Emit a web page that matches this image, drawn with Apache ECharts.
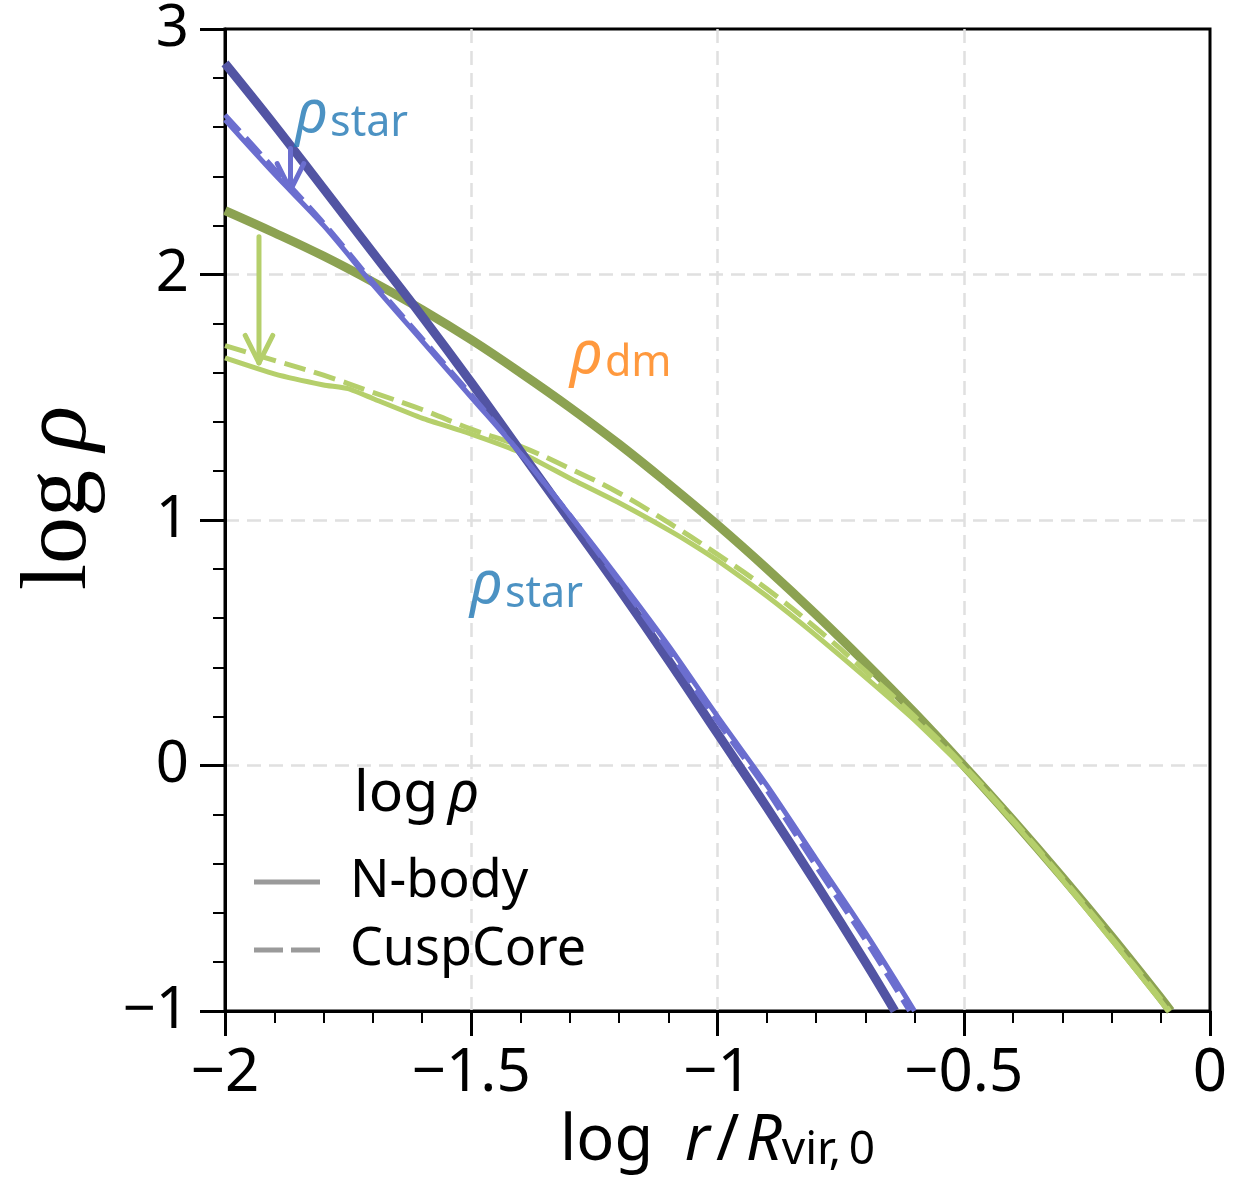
<!DOCTYPE html>
<html>
<head>
<meta charset="utf-8">
<script src="https://cdn.jsdelivr.net/npm/echarts@6/dist/echarts.min.js"></script>
<style>
  html, body { margin: 0; padding: 0; background: #ffffff; }
  #chart { width: 1238px; height: 1188px; }
</style>
</head>
<body>
<div id="chart"></div>
<script>
// Density profiles: [log r/R_vir,0, log rho]
// Stars: initial profile (thick), N-body result and CuspCore prediction
const starInitial = [
  [-2.0, 2.86], [-1.9, 2.61], [-1.8, 2.35], [-1.7, 2.09], [-1.6, 1.83],
  [-1.5, 1.56], [-1.4, 1.28], [-1.3, 1.00], [-1.2, 0.72], [-1.1, 0.43],
  [-1.0, 0.13], [-0.9, -0.17], [-0.8, -0.48], [-0.7, -0.80], [-0.64, -1.0]
];
const starNbody = [
  [-2.0, 2.63], [-1.9, 2.41], [-1.8, 2.20], [-1.7, 1.96], [-1.6, 1.73],
  [-1.5, 1.50], [-1.4, 1.27], [-1.3, 1.02], [-1.2, 0.76], [-1.1, 0.49],
  [-1.0, 0.20], [-0.9, -0.08], [-0.8, -0.38], [-0.7, -0.68], [-0.6, -1.0]
];
const starCuspCore = [
  [-2.0, 2.65], [-1.9, 2.43], [-1.8, 2.21], [-1.7, 1.97], [-1.6, 1.74],
  [-1.5, 1.51], [-1.4, 1.27], [-1.3, 1.02], [-1.2, 0.75], [-1.1, 0.47],
  [-1.0, 0.18], [-0.9, -0.10], [-0.8, -0.41], [-0.7, -0.71], [-0.61, -1.0]
];
// Dark matter: initial profile (thick), N-body result and CuspCore prediction
const dmInitial = [
  [-2.0, 2.26], [-1.9, 2.17], [-1.8, 2.075], [-1.7, 1.97], [-1.6, 1.857],
  [-1.5, 1.734], [-1.4, 1.60], [-1.3, 1.459], [-1.2, 1.309], [-1.1, 1.148],
  [-1.0, 0.98], [-0.9, 0.802], [-0.8, 0.615], [-0.7, 0.419], [-0.6, 0.215],
  [-0.5, 0.0], [-0.4, -0.223], [-0.3, -0.455], [-0.2, -0.696], [-0.1, -0.947],
  [-0.08, -1.0]
];
const dmNbody = [
  [-2.0, 1.66], [-1.9, 1.595], [-1.8, 1.55], [-1.75, 1.535], [-1.7, 1.495],
  [-1.6, 1.415], [-1.5, 1.35], [-1.4, 1.275], [-1.3, 1.17], [-1.2, 1.07],
  [-1.1, 0.96], [-1.05, 0.90], [-1.0, 0.835], [-0.9, 0.69], [-0.8, 0.53],
  [-0.7, 0.36], [-0.6, 0.185], [-0.5, -0.01], [-0.4, -0.23], [-0.3, -0.465],
  [-0.2, -0.71], [-0.1, -0.96], [-0.085, -1.0]
];
const dmCuspCore = [
  [-2.0, 1.71], [-1.9, 1.65], [-1.8, 1.59], [-1.7, 1.52], [-1.6, 1.45],
  [-1.5, 1.37], [-1.4, 1.30], [-1.3, 1.21], [-1.2, 1.11], [-1.1, 0.99],
  [-1.0, 0.86], [-0.9, 0.72], [-0.8, 0.56], [-0.7, 0.385], [-0.6, 0.20],
  [-0.5, 0.0], [-0.4, -0.222], [-0.3, -0.457], [-0.2, -0.70], [-0.1, -0.95],
  [-0.082, -1.0]
];

// Arrows marking the drop of the central density
const starArrowShaft = [[-1.867, 2.513], [-1.867, 2.344]];
const starArrowHead = [[-1.894, 2.452], [-1.867, 2.344], [-1.840, 2.452]];
const dmArrowShaft = [[-1.931, 2.154], [-1.931, 1.640]];
const dmArrowHead = [[-1.959, 1.752], [-1.931, 1.640], [-1.903, 1.752]];

// Axis ticks
const xTicks = [-2, -1.5, -1, -0.5, 0];
const yTicks = [-1, 0, 1, 2, 3];

// Legend entries
const legendNames = ['N-body', 'CuspCore'];

// Text annotations (anchor = left edge, vertical middle of the text line)
const annotations = [
  { at: [-1.858, 2.650], sub: 'star', color: '#1f77b4' },
  { at: [-1.503, 0.732], sub: 'star', color: '#1f77b4' },
  { at: [-1.300, 1.670], sub: 'dm', color: '#ff7f0e' }
];

const C = {
  starInit: '#5254a3', starFinal: '#6b6ecf',
  dmInit: '#8ca252', dmFinal: '#b5cf6b',
  legend: '#9a9a9a', grid: '#e0e0e0'
};
const SANS = 'Noto Sans';
const DASH = [22, 9];

const fmtTick = v => (v < 0 ? '\u2212' + Math.abs(v) : String(v));

function profile(name, data, color, width, dashed, z, smooth) {
  return {
    type: 'line', name: name, data: data, symbol: 'none', showSymbol: false,
    smooth: smooth,
    lineStyle: { color: color, width: width, type: dashed ? DASH : 'solid', cap: 'butt' },
    itemStyle: { color: color }, z: z, silent: true, clip: true
  };
}
function arrowPart(data, color, z) {
  return {
    type: 'line', data: data, symbol: 'none', showSymbol: false,
    lineStyle: { color: color, width: 5, cap: 'round', join: 'round' },
    z: z, silent: true, clip: false
  };
}

const labelSeries = annotations.map(a => ({
  type: 'scatter', data: [a.at], symbolSize: 0, silent: true, z: 20,
  itemStyle: { color: 'transparent' },
  label: {
    show: true, position: 'inside', align: 'left', verticalAlign: 'middle',
    formatter: '{r|\u03c1}{s|' + a.sub + '}',
    rich: {
      r: { fontFamily: SANS, fontStyle: 'italic', fontSize: 60, color: a.color },
      s: { fontFamily: SANS, fontSize: 43, color: a.color, lineHeight: 26, verticalAlign: 'bottom', padding: [0, 0, 0, 2] }
    }
  }
}));

const gridLine = { show: true, showMinLine: false, showMaxLine: false,
  lineStyle: { color: C.grid, width: 2.5, type: [14, 8] } };

const chart = echarts.init(document.getElementById('chart'), null, { renderer: 'canvas' });

chart.setOption({
  animation: false,
  backgroundColor: '#ffffff',
  grid: {
    left: 225, right: 28, top: 27, bottom: 177,
    show: true, borderColor: '#000000', borderWidth: 3, backgroundColor: 'transparent'
  },
  title: {
    text: '{a|log\u2009}{b|\u03c1}',
    left: 354, top: 766, padding: 0,
    textStyle: {
      fontWeight: 'normal',
      rich: {
        a: { fontFamily: SANS, fontSize: 57, fontWeight: 'normal', color: '#000' },
        b: { fontFamily: SANS, fontSize: 57, fontWeight: 'normal', fontStyle: 'italic', color: '#000' }
      }
    }
  },
  legend: {
    data: [
      { name: legendNames[0], icon: 'path://M0,0H66V5H0Z' },
      { name: legendNames[1], icon: 'path://M0,0H29V5H0Z M37,0H66V5H37Z' }
    ],
    orient: 'vertical', left: 254, top: 856, padding: 0,
    itemWidth: 66, itemHeight: 5, itemGap: 16,
    selectedMode: false,
    textStyle: { fontFamily: SANS, fontSize: 52, color: '#000', padding: [0, 0, 0, 25] }
  },
  xAxis: {
    type: 'value', min: xTicks[0], max: xTicks[xTicks.length - 1], interval: 0.5,
    axisLine: { show: true, onZero: false, lineStyle: { color: '#000', width: 3 } },
    axisTick: { show: true, inside: false, length: 25, lineStyle: { color: '#000', width: 3 } },
    minorTick: { show: true, splitNumber: 5, length: 12, lineStyle: { color: '#000', width: 2 } },
    splitLine: gridLine,
    axisLabel: { fontFamily: SANS, fontSize: 60, color: '#000', margin: 33, formatter: fmtTick },
    name: '{a|log\u2002}{i|r}{a|\u200a/\u200a}{i|R}{s|vir,\u20090}',
    nameLocation: 'middle', nameGap: 100, nameMoveOverlap: false,
    nameTextStyle: {
      rich: {
        a: { fontFamily: SANS, fontSize: 63, color: '#000' },
        i: { fontFamily: SANS, fontSize: 63, fontStyle: 'italic', color: '#000' },
        s: { fontFamily: SANS, fontSize: 46, color: '#000', lineHeight: 10, verticalAlign: 'bottom' }
      }
    }
  },
  yAxis: {
    type: 'value', min: yTicks[0], max: yTicks[yTicks.length - 1], interval: 1,
    axisLine: { show: true, onZero: false, lineStyle: { color: '#000', width: 3 } },
    axisTick: { show: true, inside: false, length: 25, lineStyle: { color: '#000', width: 3 } },
    minorTick: { show: true, splitNumber: 5, length: 12, lineStyle: { color: '#000', width: 2 } },
    splitLine: gridLine,
    axisLabel: { fontFamily: SANS, fontSize: 58, color: '#000', margin: 36, formatter: fmtTick },
    name: '{a|log\u2009}{b|\u03c1}',
    nameLocation: 'middle', nameRotate: 90, nameGap: 118, nameMoveOverlap: false,
    nameTextStyle: {
      padding: [0, 0, 0, 44],
      rich: {
        a: { fontFamily: 'Liberation Serif', fontSize: 94, color: '#000' },
        b: { fontFamily: 'Liberation Serif', fontSize: 94, fontStyle: 'italic', color: '#000' }
      }
    }
  },
  series: [
    profile('dm initial', dmInitial, C.dmInit, 9, false, 2, 0.4),
    profile('dm N-body', dmNbody, C.dmFinal, 5, false, 3, 0.15),
    profile('dm CuspCore', dmCuspCore, C.dmFinal, 5, true, 4, 0.4),
    profile('star initial', starInitial, C.starInit, 9, false, 5, 0.4),
    profile('star N-body', starNbody, C.starFinal, 5, false, 6, 0.3),
    profile('star CuspCore', starCuspCore, C.starFinal, 5, true, 7, 0.3),
    arrowPart(starArrowShaft, C.starFinal, 10),
    arrowPart(starArrowHead, C.starFinal, 10),
    arrowPart(dmArrowShaft, C.dmFinal, 10),
    arrowPart(dmArrowHead, C.dmFinal, 10),
    // legend keys
    { type: 'line', name: legendNames[0], data: [], symbol: 'none',
      lineStyle: { color: C.legend, width: 5 }, itemStyle: { color: C.legend } },
    { type: 'line', name: legendNames[1], data: [], symbol: 'none',
      lineStyle: { color: C.legend, width: 5, type: [29, 8] }, itemStyle: { color: C.legend } }
  ].concat(labelSeries)
});
</script>
</body>
</html>
